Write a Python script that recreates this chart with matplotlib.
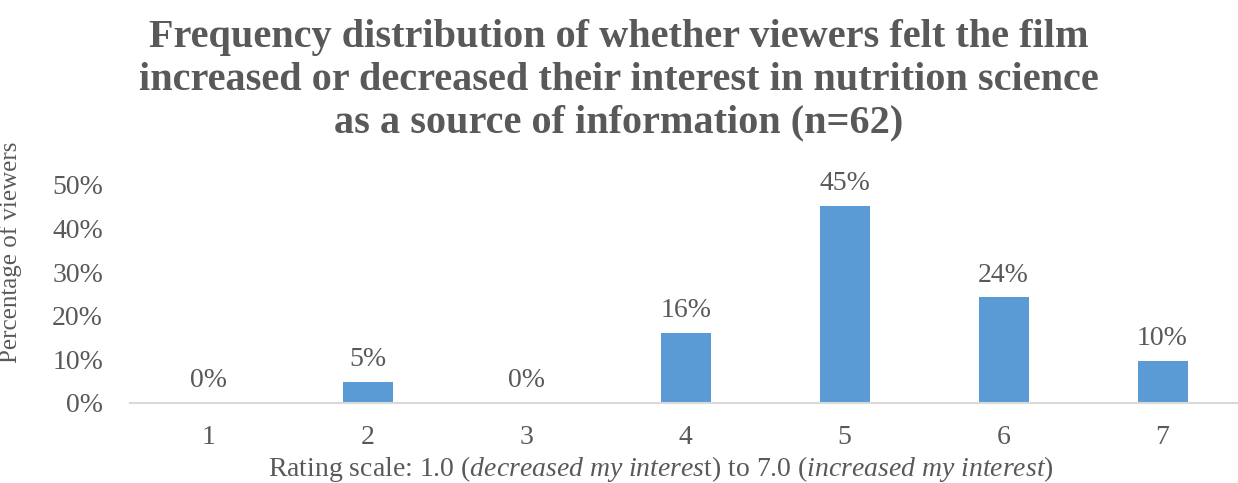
import matplotlib
matplotlib.use("Agg")
import matplotlib.pyplot as plt
from matplotlib.ticker import PercentFormatter

# share of viewers (n=62) per rating
ratings = ["1", "2", "3", "4", "5", "6", "7"]
shares = [0.0, 4.8, 0.0, 16.1, 45.2, 24.2, 9.7]
y_ticks = [0, 10, 20, 30, 40, 50]

title = ("Frequency distribution of whether viewers felt the film\n"
         "increased or decreased their interest in nutrition science\n"
         "as a source of information (n=62)")

FONT = "Liberation Serif"
GREY = "#595959"
BLUE = "#5B9BD5"

plt.rcParams["font.family"] = FONT
plt.rcParams["mathtext.fontset"] = "custom"
plt.rcParams["mathtext.rm"] = FONT
plt.rcParams["mathtext.it"] = FONT + ":italic"

W, H = 1238, 483
fig = plt.figure(figsize=(W / 100, H / 100), dpi=100)
# plot area in pixels: x 129.5..1242, y 185..403
ax = fig.add_axes([129.5 / W, 1 - 403 / H, 1112.5 / W, 218 / H])

x = range(len(ratings))
bars = ax.bar(x, shares, width=50 / 159, color=BLUE, zorder=2)
for rect, v in zip(bars, shares):
    ax.annotate(f"{v:.0f}%", (rect.get_x() + rect.get_width() / 2, v),
                xytext=(0, 7), textcoords="offset points",
                ha="center", va="bottom", fontsize=20, color=GREY)

ax.set_xlim(-0.5, len(ratings) - 0.5)
ax.set_ylim(0, 50)
ax.set_xticks(list(x))
ax.set_xticklabels(ratings)
ax.set_yticks(y_ticks)
ax.yaxis.set_major_formatter(PercentFormatter(decimals=0))
ax.tick_params(axis="both", length=0, labelsize=20, colors=GREY)
ax.tick_params(axis="x", pad=16)
ax.tick_params(axis="y", pad=19)

for side in ["top", "right", "left"]:
    ax.spines[side].set_visible(False)
ax.spines["bottom"].set_color("#D9D9D9")
ax.spines["bottom"].set_linewidth(1.5)

ax.set_ylabel("Percentage of viewers", fontsize=18, color=GREY)
ax.yaxis.set_label_coords(-0.097, 0.69)
ax.set_xlabel(r"Rating scale: 1.0 ($\mathit{decreased\ my\ interes}$t) to 7.0 "
              r"($\mathit{increased\ my\ interest)}$",
              fontsize=20, color=GREY)
ax.xaxis.set_label_coords((661 - 129.5) / 1112.5, -0.235)

fig.text(0.5, 0.96, title, ha="center", va="top", fontsize=29,
         fontweight="bold", color=GREY, linespacing=1.2)

fig.savefig("out.png", dpi=100)
